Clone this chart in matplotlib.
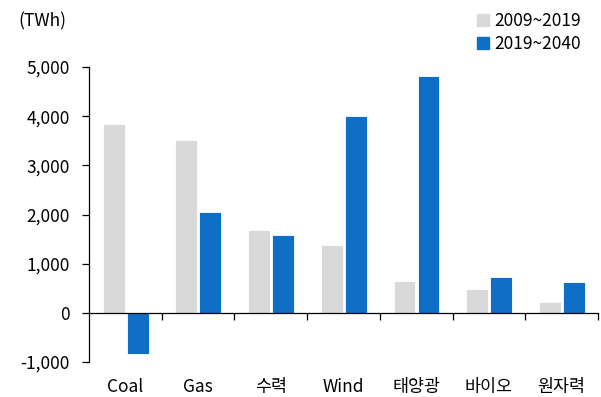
import numpy as np
import matplotlib.pyplot as plt
from matplotlib.patches import Patch

plt.rcParams['font.family'] = ['Noto Sans CJK KR', 'DejaVu Sans']

categories = ['Coal', 'Gas', '수력', 'Wind', '태양광', '바이오', '원자력']
past = [3850, 3520, 1690, 1380, 650, 490, 220]      # 2009~2019
future = [-840, 2050, 1590, 4000, 4810, 730, 630]   # 2019~2040

gray = '#D9D9D9'
blue = '#0F6FC6'
fs = 12.5

fig = plt.figure(figsize=(6.01, 3.97), dpi=100)
ax = fig.add_axes([0.148, 0.088, 0.847, 0.743])

x = np.arange(len(categories))
w = 0.30
ax.bar(x - 0.16, past, w, color=gray, edgecolor='white', linewidth=0.6)
ax.bar(x + 0.17, future, w, color=blue, edgecolor='white', linewidth=0.6)

ax.set_xlim(-0.5, len(categories) - 0.5)
ax.set_ylim(-1000, 5000)
ax.set_yticks(np.arange(-1000, 5001, 1000))
ax.set_yticklabels(['{:,}'.format(v) for v in range(-1000, 5001, 1000)], fontsize=fs)

for s in ['top', 'right']:
    ax.spines[s].set_visible(False)
ax.spines['bottom'].set_position(('data', 0))
ax.spines['bottom'].set_linewidth(0.9)
ax.spines['left'].set_linewidth(0.9)
ax.tick_params(axis='y', length=5, width=0.9, pad=9, colors='black')

# boundary ticks on the zero line, labels placed under the plot
ax.set_xticks(np.arange(0.5, len(categories), 1.0))
ax.set_xticklabels([])
ax.tick_params(axis='x', which='major', direction='out', length=5, width=0.9)
ax.set_xticks(x, minor=True)
ax.set_xticklabels(categories, minor=True, fontsize=fs)
ax.tick_params(axis='x', which='minor', length=0, pad=47)

fig.text(0.03, 0.945, '(TWh)', fontsize=fs, va='center', ha='left')

handles = [Patch(color=gray, label='2009~2019'), Patch(color=blue, label='2019~2040')]
fig.legend(handles=handles, loc='upper right', bbox_to_anchor=(0.993, 1.01),
           frameon=False, fontsize=fs, handlelength=0.7, handleheight=0.7,
           handletextpad=0.3, labelspacing=0.3)

fig.savefig('out.png', dpi=100)
